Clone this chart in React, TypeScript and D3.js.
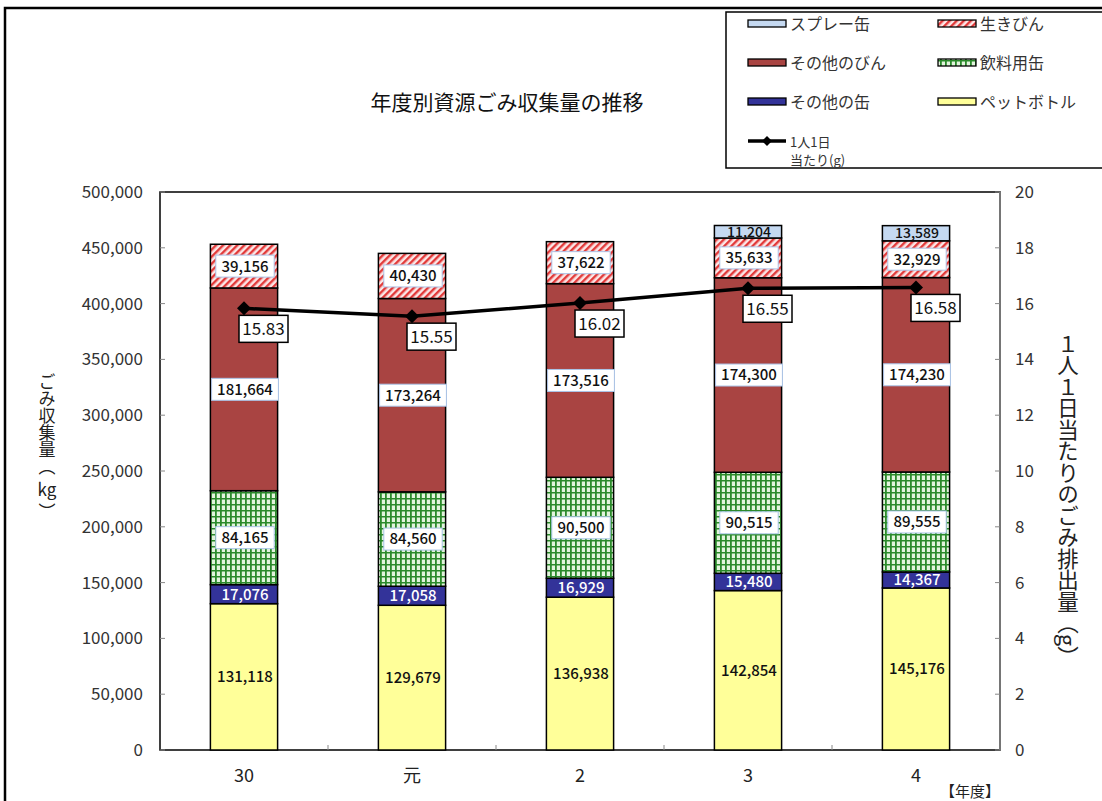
import { line, scaleBand, scaleLinear, stack } from 'd3'

const years = ['30', '元', '2', '3', '4']
const seriesNames = ['ペットボトル', 'その他の缶', '飲料用缶', 'その他のびん', '生きびん', 'スプレー缶']

const petBottle = [131118, 129679, 136938, 142854, 145176]
const otherCans = [17076, 17058, 16929, 15480, 14367]
const drinkCans = [84165, 84560, 90500, 90515, 89555]
const otherBottles = [181664, 173264, 173516, 174300, 174230]
const returnBottles = [39156, 40430, 37622, 35633, 32929]
const sprayCans = [0, 0, 0, 11204, 13589]

const perPerson = [15.83, 15.55, 16.02, 16.55, 16.58]

const leftTicks = [0, 50000, 100000, 150000, 200000, 250000, 300000, 350000, 400000, 450000, 500000]
const rightTicks = [0, 2, 4, 6, 8, 10, 12, 14, 16, 18, 20]

const seriesValues = [petBottle, otherCans, drinkCans, otherBottles, returnBottles, sprayCans]

const font = '"Noto Sans CJK JP", "Noto Sans", sans-serif'

const fills = ['#ffff99', '#333399', 'url(#check)', '#a94442', 'url(#hatch)', '#c5d9f1']

type Row = { year: string; [key: string]: number | string }

const rows: Row[] = years.map((year, i) => {
  const row: Row = { year }
  seriesNames.forEach((name, s) => {
    row[name] = seriesValues[s][i]
  })
  return row
})

const plot = { left: 160, right: 1000, top: 192, bottom: 750 }

const legendItems = [
  { name: 'スプレー缶', fill: '#c5d9f1', col: 0, row: 0 },
  { name: '生きびん', fill: 'url(#hatch)', col: 1, row: 0 },
  { name: 'その他のびん', fill: '#a94442', col: 0, row: 1 },
  { name: '飲料用缶', fill: 'url(#check)', col: 1, row: 1 },
  { name: 'その他の缶', fill: '#333399', col: 0, row: 2 },
  { name: 'ペットボトル', fill: '#ffff99', col: 1, row: 2 },
]

const fmt = (v: number) => v.toLocaleString('en-US')

function App() {
  const x = scaleBand<string>()
    .domain(years)
    .range([plot.left, plot.right])
    .paddingInner(0.6)
    .paddingOuter(0.3)

  const y = scaleLinear().domain([0, 500000]).range([plot.bottom, plot.top])
  const y2 = scaleLinear().domain([0, 20]).range([plot.bottom, plot.top])

  const layers = stack<Row>().keys(seriesNames)(rows)

  const cx = (year: string) => (x(year) ?? 0) + x.bandwidth() / 2

  const trend = line<number>()
    .x((_, i) => cx(years[i]))
    .y((d) => y2(d))

  const step = x.step()

  return (
    <svg
      width={1102}
      height={801}
      style={{ position: 'absolute', left: 0, top: 0, fontFamily: font }}
    >
      <defs>
        <pattern id="hatch" width={5} height={5} patternUnits="userSpaceOnUse" patternTransform="rotate(45)">
          <rect width={5} height={5} fill="#fbe6e6" />
          <rect width={2.4} height={5} fill="#e23a3a" />
        </pattern>
        <pattern id="check" width={5} height={6} patternUnits="userSpaceOnUse">
          <rect width={5} height={6} fill="#e2f4dc" />
          <rect width={1.8} height={6} fill="#2b8a2b" />
          <rect width={5} height={1.5} fill="#2b8a2b" />
        </pattern>
      </defs>

      <rect x={0} y={0} width={1102} height={801} fill="#fff" />
      <rect x={5} y={8} width={1110} height={810} fill="none" stroke="#000" strokeWidth={2.5} />

      <text x={507} y={110} textAnchor="middle" fontSize={21} fill="#111">
        年度別資源ごみ収集量の推移
      </text>

      {/* legend */}
      <rect x={726} y={12} width={400} height={156} fill="#fff" stroke="#000" strokeWidth={1.5} />
      {legendItems.map((item) => {
        const lx = item.col === 0 ? 748 : 938
        const ly = 23.5 + item.row * 39
        return (
          <g key={item.name}>
            <rect x={lx} y={ly - 3.5} width={38} height={7} fill={item.fill} stroke="#000" strokeWidth={1.3} />
            <text x={lx + 42} y={ly + 6} fontSize={16} fill="#333">
              {item.name}
            </text>
          </g>
        )
      })}
      <line x1={748} x2={786} y1={141} y2={141} stroke="#000" strokeWidth={3.5} />
      <path d="M767,136 L772,141 L767,146 L762,141 Z" fill="#000" />
      <text x={790} y={147} fontSize={13} fill="#333">1人1日</text>
      <text x={790} y={165} fontSize={13} fill="#333">当たり(g)</text>

      {/* plot frame */}
      <rect
        x={plot.left}
        y={plot.top}
        width={plot.right - plot.left}
        height={plot.bottom - plot.top}
        fill="#fff"
        stroke="#000"
        strokeWidth={1.5}
      />
      <line x1={plot.right} x2={plot.right} y1={plot.top} y2={plot.bottom} stroke="#888" strokeWidth={1.5} />

      {leftTicks.map((t) => (
        <g key={`l-${t}`}>
          <line x1={plot.left} x2={plot.left + 5} y1={y(t)} y2={y(t)} stroke="#888" />
          <text x={143} y={y(t)} dy="0.35em" textAnchor="end" fontSize={17} fill="#333">
            {fmt(t)}
          </text>
        </g>
      ))}
      {rightTicks.map((t) => (
        <g key={`r-${t}`}>
          <line x1={plot.right - 5} x2={plot.right} y1={y2(t)} y2={y2(t)} stroke="#888" />
          <text x={1015} y={y2(t)} dy="0.35em" fontSize={17} fill="#333">
            {t}
          </text>
        </g>
      ))}

      {years.slice(1).map((year) => (
        <line
          key={`xt-${year}`}
          x1={cx(year) - step / 2}
          x2={cx(year) - step / 2}
          y1={plot.bottom}
          y2={plot.bottom - 5}
          stroke="#888"
        />
      ))}
      {years.map((year) => (
        <text key={`xl-${year}`} x={cx(year)} y={782} textAnchor="middle" fontSize={18} fill="#222">
          {year}
        </text>
      ))}
      <text x={1000} y={797} textAnchor="end" fontSize={15} fill="#222">
        【年度】
      </text>

      {/* bars */}
      {layers.map((layer, s) =>
        layer.map((d, i) => {
          const v = d[1] - d[0]
          if (v <= 0) return null
          return (
            <rect
              key={`${s}-${i}`}
              x={x(years[i])}
              y={y(d[1])}
              width={x.bandwidth()}
              height={y(d[0]) - y(d[1])}
              fill={fills[s]}
              stroke="#000"
              strokeWidth={1.5}
            />
          )
        }),
      )}

      {/* bar labels */}
      {layers.map((layer, s) =>
        layer.map((d, i) => {
          const v = d[1] - d[0]
          if (v <= 0) return null
          const label = fmt(v)
          const lx = cx(years[i]) + 1
          const ly = (y(d[0]) + y(d[1])) / 2
          const boxed = s === 2 || s === 3 || s === 4
          const w = label.length * 8.4 + 8
          return (
            <g key={`lab-${s}-${i}`}>
              {boxed && (
                <rect x={lx - w / 2} y={ly - 11} width={w} height={22} fill="#fff" stroke="#a9c4e8" strokeWidth={1} />
              )}
              <text
                x={lx}
                y={ly}
                dy="0.36em"
                textAnchor="middle"
                fontSize={s === 5 ? 14 : 15}
                fontWeight={500}
                fill={s === 1 ? '#fff' : '#111'}
              >
                {label}
              </text>
            </g>
          )
        }),
      )}

      {/* per-person line */}
      <path d={trend(perPerson) ?? ''} fill="none" stroke="#000" strokeWidth={3.5} />
      {perPerson.map((v, i) => {
        const px = cx(years[i])
        const py = y2(v)
        return (
          <g key={`pt-${i}`}>
            <path d={`M${px},${py - 7} L${px + 7},${py} L${px},${py + 7} L${px - 7},${py} Z`} fill="#000" />
            <rect x={px - 5} y={py + 7} width={49} height={27} fill="#fff" stroke="#000" strokeWidth={1.5} />
            <text x={px + 19.5} y={py + 20.5} dy="0.36em" textAnchor="middle" fontSize={17} fill="#111">
              {v.toFixed(2)}
            </text>
          </g>
        )
      })}

      {/* axis titles */}
      <text x={47} y={373} fontSize={17} fill="#222" style={{ writingMode: 'vertical-rl' }}>
        ごみ収集量（
      </text>
      <text x={47} y={490} dy="0.36em" textAnchor="middle" fontSize={17} fill="#222">
        kg
      </text>
      <text x={47} y={503} fontSize={17} fill="#222" style={{ writingMode: 'vertical-rl' }}>
        ）
      </text>
      <text x={1068} y={333} fontSize={21.5} fill="#222" style={{ writingMode: 'vertical-rl' }}>
        １人１日当たりのごみ排出量（g）
      </text>
    </svg>
  )
}

export default App
